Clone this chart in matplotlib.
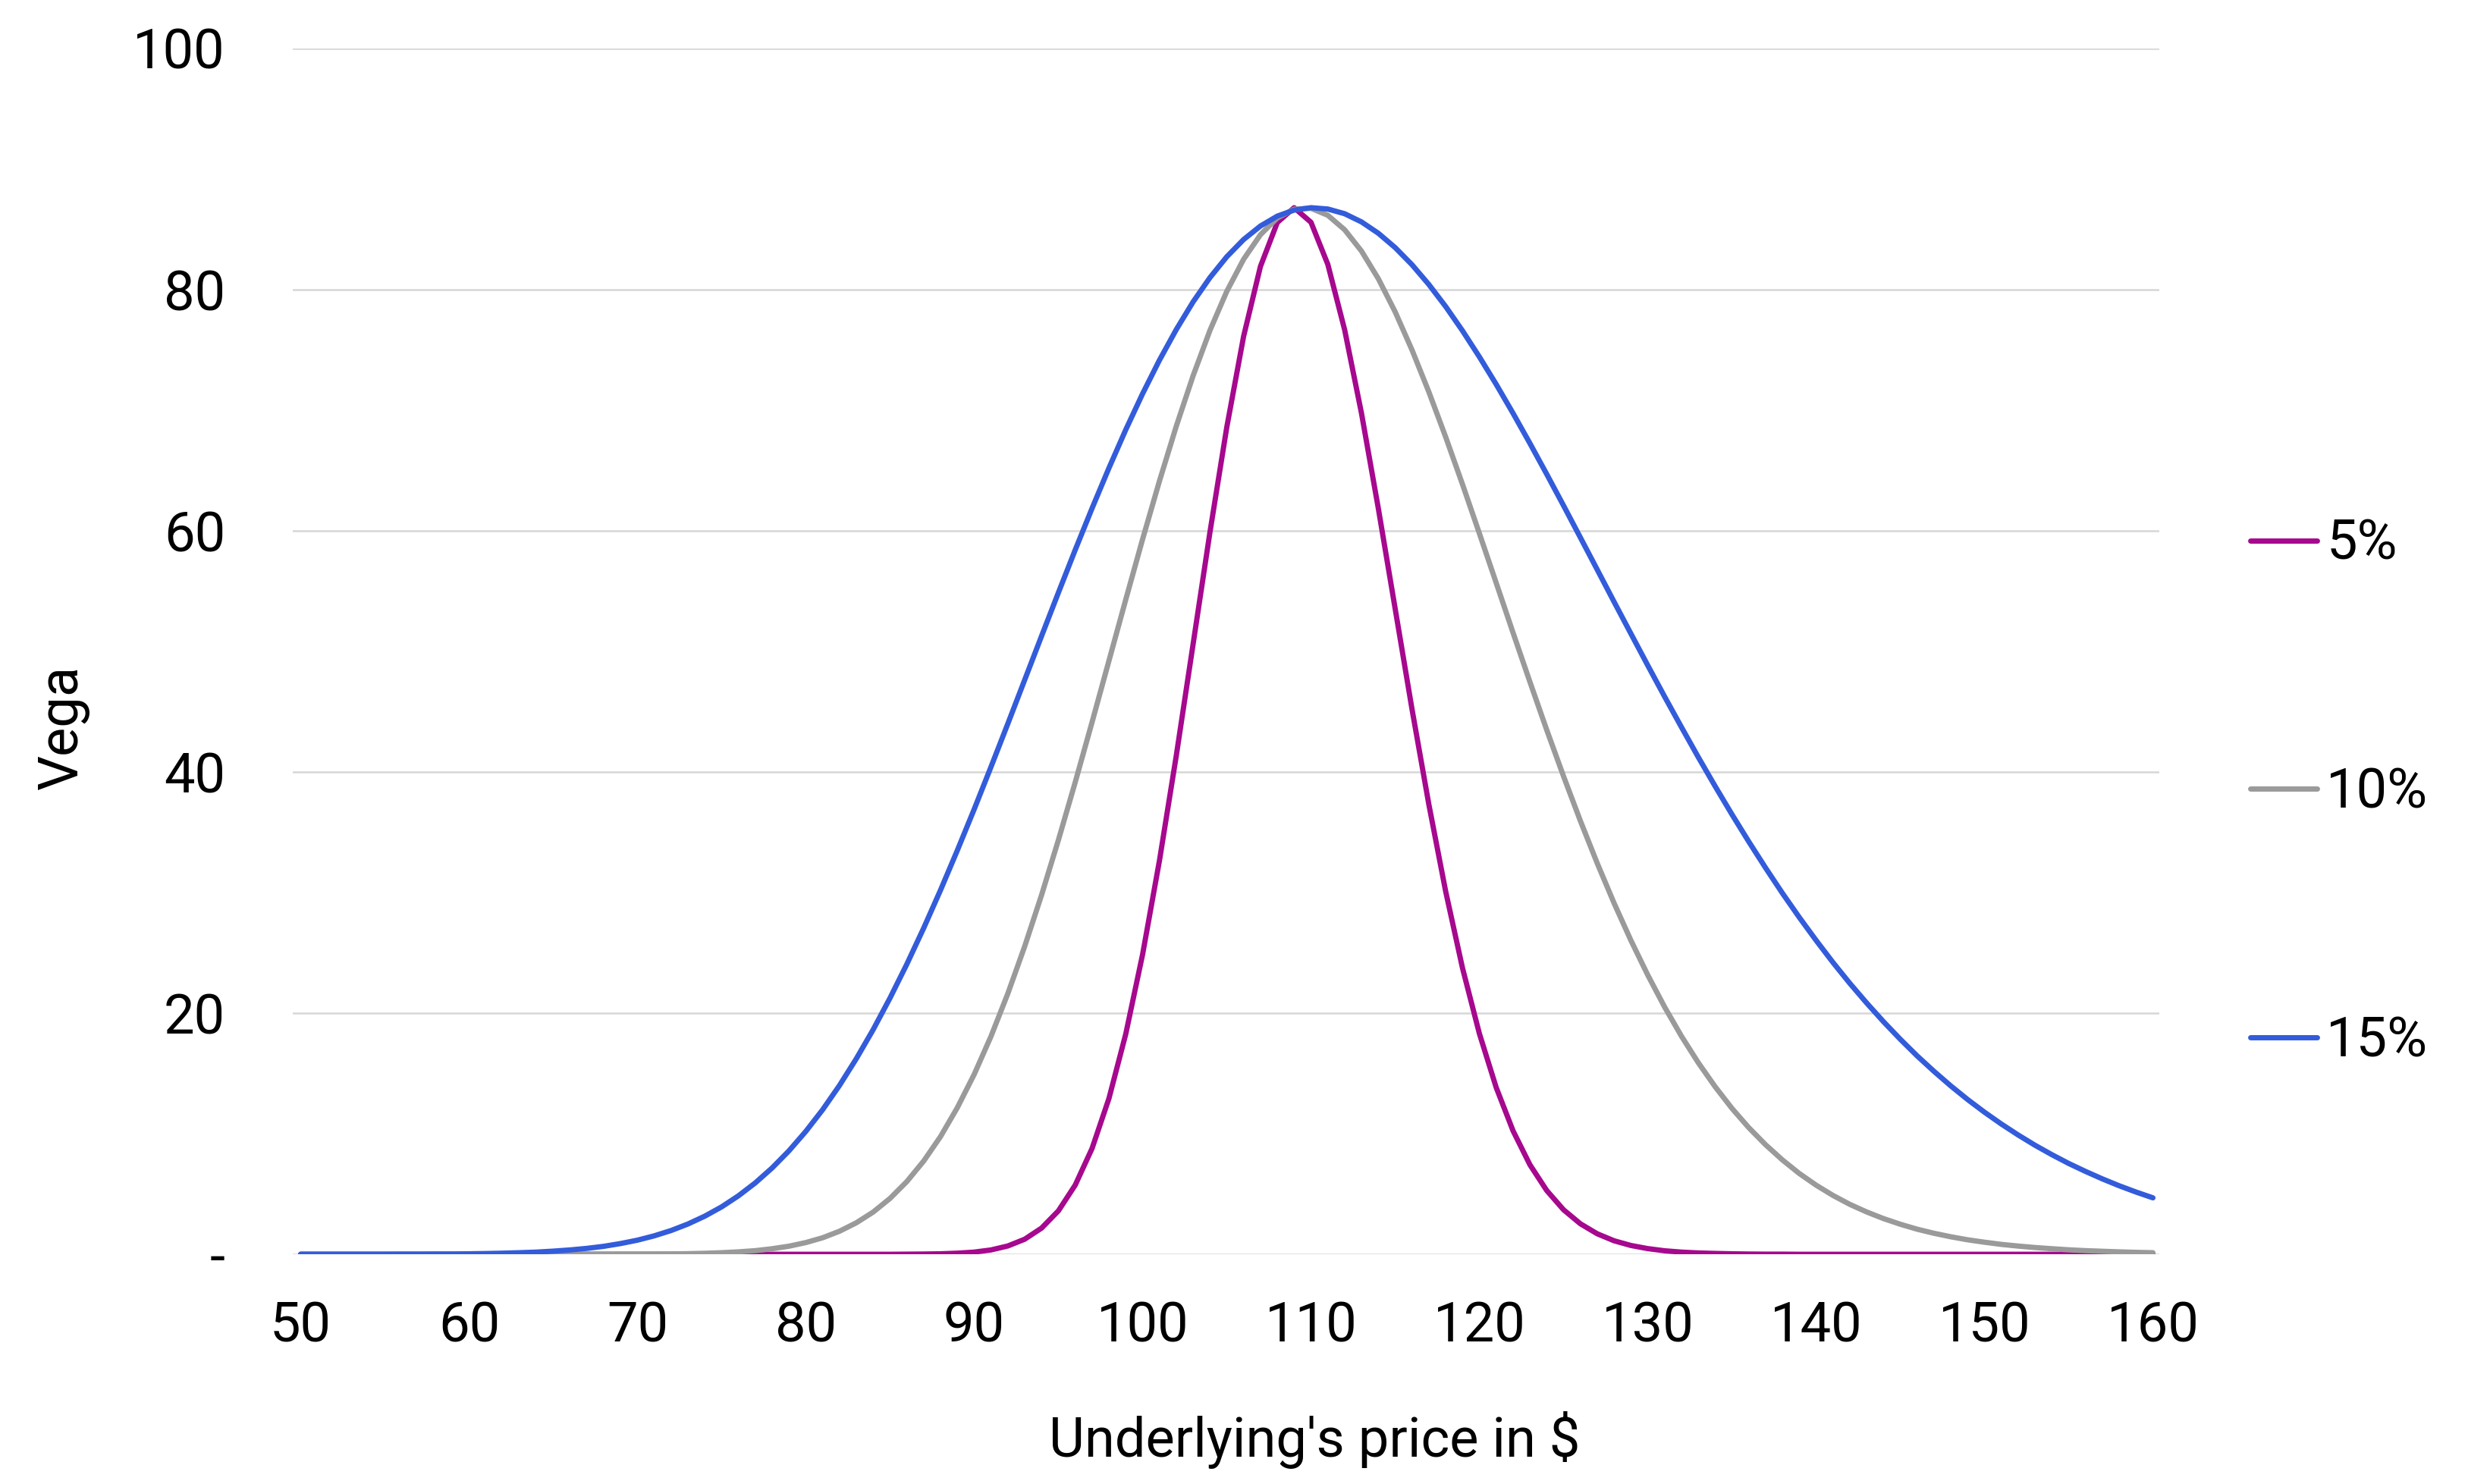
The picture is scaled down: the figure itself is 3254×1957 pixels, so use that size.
import matplotlib.pyplot as plt

price = list(range(50, 161))

vega_5 = [
    0, 0, 0, 0, 0, 0, 0, 0, 0, 0,
    0, 0, 0, 0, 0, 0, 0, 0, 0, 0,
    0, 0, 0, 0, 0, 0, 0, 0, 0, 0,
    0, 0, 0, 0, 0, 0, 0.01, 0.02, 0.04, 0.09,
    0.18, 0.36, 0.69, 1.25, 2.17, 3.60, 5.74, 8.78, 12.91, 18.26,
    24.86, 32.63, 41.34, 50.60, 59.88, 68.59, 76.13, 81.93, 85.57, 86.80,
    85.59, 82.10, 76.67, 69.75, 61.86, 53.54, 45.21, 37.31, 30.09, 23.73,
    18.31, 13.83, 10.24, 7.43, 5.29, 3.69, 2.53, 1.70, 1.12, 0.73,
    0.47, 0.29, 0.18, 0.11, 0.07, 0.04, 0.02, 0.01, 0.01, 0,
    0, 0, 0, 0, 0, 0, 0, 0, 0, 0,
    0, 0, 0, 0, 0, 0, 0, 0, 0, 0,
    0,
]

vega_10 = [
    0, 0, 0, 0, 0, 0, 0, 0, 0, 0,
    0, 0, 0, 0, 0, 0, 0, 0, 0, 0.01,
    0.01, 0.02, 0.03, 0.05, 0.08, 0.13, 0.20, 0.30, 0.46, 0.67,
    0.97, 1.37, 1.91, 2.61, 3.50, 4.63, 6.03, 7.73, 9.76, 12.16,
    14.92, 18.08, 21.63, 25.54, 29.79, 34.35, 39.15, 44.13, 49.21, 54.29,
    59.30, 64.12, 68.67, 72.86, 76.62, 79.86, 82.52, 84.56, 85.95, 86.68,
    86.75, 86.17, 84.97, 83.20, 80.91, 78.16, 75.00, 71.52, 67.78, 63.85,
    59.79, 55.68, 51.55, 47.48, 43.49, 39.64, 35.94, 32.43, 29.12, 26.03,
    23.16, 20.51, 18.09, 15.89, 13.90, 12.10, 10.50, 9.08, 7.82, 6.70,
    5.73, 4.88, 4.14, 3.51, 2.96, 2.49, 2.08, 1.74, 1.45, 1.20,
    1.00, 0.82, 0.68, 0.56, 0.46, 0.37, 0.30, 0.25, 0.20, 0.16,
    0.13,
]

vega_15 = [
    0, 0, 0, 0, 0, 0, 0.01, 0.01, 0.02, 0.02,
    0.04, 0.06, 0.09, 0.13, 0.18, 0.26, 0.36, 0.49, 0.66, 0.89,
    1.17, 1.53, 1.97, 2.51, 3.16, 3.93, 4.85, 5.92, 7.16, 8.58,
    10.19, 11.99, 14.00, 16.22, 18.63, 21.25, 24.06, 27.05, 30.20, 33.50,
    36.91, 40.43, 44.01, 47.64, 51.27, 54.87, 58.42, 61.87, 65.20, 68.38,
    71.37, 74.15, 76.69, 78.99, 81.00, 82.73, 84.16, 85.28, 86.10, 86.60,
    86.80, 86.69, 86.30, 85.62, 84.68, 83.49, 82.07, 80.43, 78.60, 76.59,
    74.43, 72.15, 69.75, 67.26, 64.70, 62.09, 59.44, 56.78, 54.11, 51.47,
    48.84, 46.25, 43.72, 41.23, 38.82, 36.48, 34.22, 32.04, 29.94, 27.94,
    26.03, 24.20, 22.47, 20.84, 19.29, 17.83, 16.45, 15.17, 13.96, 12.83,
    11.78, 10.80, 9.89, 9.04, 8.26, 7.53, 6.87, 6.25, 5.68, 5.16,
    4.68,
]

series_labels = ['5%', '10%', '15%']
y_ticks = [0, 20, 40, 60, 80, 100]
y_tick_labels = ['-', '20', '40', '60', '80', '100']
x_ticks = list(range(50, 161, 10))


def main() -> None:
    plt.rcParams['font.family'] = ['Roboto', 'DejaVu Sans']

    fig = plt.figure(figsize=(16.27, 9.785), dpi=200)
    ax = fig.add_axes([0.1186, 0.1548, 0.875 - 0.1186, 0.9673 - 0.1548])

    colors = ['#a6088e', '#9a9a9a', '#335cdb']
    for vals, label, color in zip([vega_5, vega_10, vega_15], series_labels, colors):
        ax.plot(price, vals, color=color, lw=2.5, label=label,
                solid_capstyle='round', solid_joinstyle='round')

    ax.set_xlim(49.53, 160.39)
    ax.set_ylim(0, 100)
    ax.set_yticks(y_ticks)
    ax.set_yticklabels(y_tick_labels)
    ax.set_xticks(x_ticks)
    ax.set_xticklabels([str(t) for t in x_ticks])

    ax.grid(axis='y', color='#d6d6d6', lw=0.9)
    ax.set_axisbelow(True)
    for side in ['top', 'right', 'bottom', 'left']:
        ax.spines[side].set_visible(False)

    ax.tick_params(axis='y', length=0, pad=32, labelsize=26, labelcolor='black')
    ax.tick_params(axis='x', length=0, pad=22, labelsize=26, labelcolor='black')

    fig.text(0.5326, 0.0296, "Underlying's price in $", fontsize=26,
             ha='center', va='center', color='black')
    fig.text(0.0255, 0.51, 'Vega', fontsize=26, rotation=90,
             ha='center', va='center', color='black')

    fig.legend(loc='center left', bbox_to_anchor=(0.9118, 0.4655),
               frameon=False, fontsize=26, handlelength=1.22,
               handletextpad=0.17, labelspacing=3.58, borderpad=0,
               borderaxespad=0)

    fig.savefig('out.png', dpi=200)


if __name__ == '__main__':
    main()
